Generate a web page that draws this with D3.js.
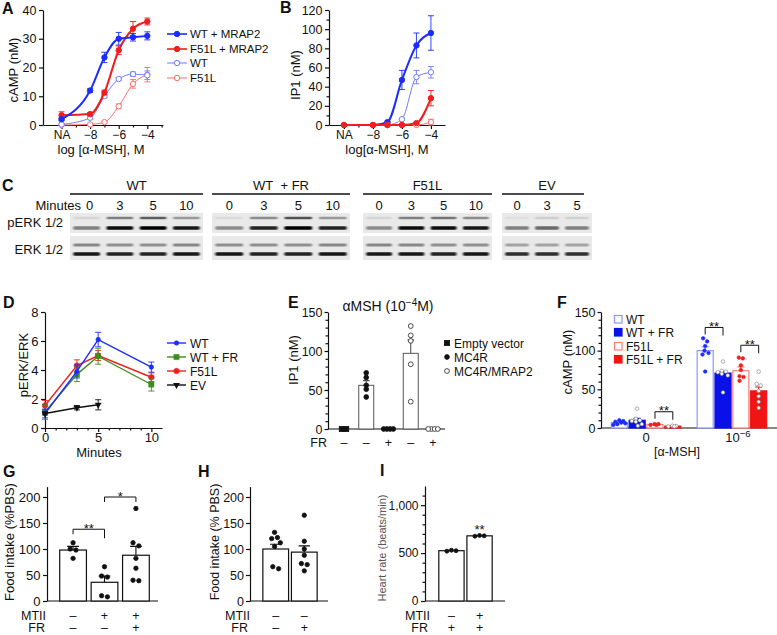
<!DOCTYPE html>
<html lang="en">
<head>
<meta charset="UTF-8">
<title>MC4R F51L / MRAP2 signalling</title>
<script src="https://cdn.jsdelivr.net/npm/d3@7/dist/d3.min.js"></script>
<style>
  body { margin: 0; background: #fff; }
  svg { display: block; font-family: 'Liberation Sans', Arial, sans-serif; }
  text { fill: #111; }
</style>
</head>
<body>
<svg id="fig" width="777" height="635"></svg>
<script>
// ---------- A / B : dose response ----------
const doseLog = [-10, -8, -7, -6, -5, -4];          // -10 is the "NA" point
const doseTicks = [-10, -8, -6, -4];
const doseTickLabels = ["NA", "\u22128", "\u22126", "\u22124"];
const doseSeries = ["WT + MRAP2", "F51L + MRAP2", "WT", "F51L"];

const campWtMrap2      = [2.0, 12.0, 23.5, 30.0, 30.5, 31.0];
const campWtMrap2Sem   = [0.5, 0.6, 1.8, 2.2, 1.3, 1.4];
const campF51lMrap2    = [3.4, 3.8, 11.3, 26.0, 33.5, 36.0];
const campF51lMrap2Sem = [1.2, 0.5, 0.8, 1.5, 2.5, 1.2];
const campWt           = [0.2, 2.5, 10.0, 16.0, 17.7, 17.3];
const campWtSem        = [0.2, 0.4, 0.5, 0.5, 0.7, 1.5];
const campF51l         = [0.0, 0.2, 1.0, 6.5, 14.3, 17.5];
const campF51lSem      = [0.1, 0.2, 0.3, 0.8, 1.5, 2.5];

const ip1WtMrap2      = [0, 0, 3, 47, 83, 96];
const ip1WtMrap2Sem   = [0, 0, 1, 10, 13, 18];
const ip1F51lMrap2    = [0, 0, 0, 0, 2, 28];
const ip1F51lMrap2Sem = [0, 0, 0, 0, 1, 8];
const ip1Wt           = [0, 0, 0, 6, 50, 55];
const ip1WtSem        = [0, 0, 0, 1, 7, 6];
const ip1F51l         = [0, 0, 0, 0, 0, 3];
const ip1F51lSem      = [0, 0, 0, 0, 0, 3];

// ---------- C : western blot (band darkness 0..1) ----------
const blotGroups  = ["WT", "WT\u00a0\u00a0+ FR", "F51L", "EV"];
const blotMinutes = [[0, 3, 5, 10], [0, 3, 5, 10], [0, 3, 5, 10], [0, 3, 5]];
const pErkUpper = [[0.08, 0.45, 0.6, 0.35], [0.06, 0.4, 0.65, 0.35], [0.08, 0.45, 0.5, 0.4], [0.04, 0.12, 0.1]];
const pErkLower = [[0.45, 0.95, 1, 0.9], [0.4, 0.85, 1, 0.85], [0.4, 0.95, 0.95, 0.9], [0.45, 0.55, 0.45]];
const erkUpper  = [[0.42, 0.38, 0.38, 0.42], [0.38, 0.38, 0.38, 0.42], [0.42, 0.42, 0.38, 0.38], [0.3, 0.3, 0.3]];
const erkLower  = [[0.9, 0.85, 0.85, 0.9], [0.9, 0.85, 0.85, 0.9], [0.9, 0.9, 0.85, 0.9], [0.8, 0.8, 0.8]];

// ---------- D : pERK/ERK time course ----------
const timeMin = [0, 3, 5, 10];
const evMin = [0, 3, 5];
const perkSeries = ["WT", "WT + FR", "F51L", "EV"];
const perkWt      = [1.0, 3.9, 6.1, 4.2];
const perkWtSem   = [0.3, 0.45, 0.5, 0.35];
const perkWtFr    = [1.1, 3.7, 4.95, 3.0];
const perkWtFrSem = [0.5, 0.5, 0.55, 0.45];
const perkF51l    = [1.55, 4.3, 5.0, 3.5];
const perkF51lSem = [0.35, 0.4, 0.35, 0.3];
const perkEv      = [1.0, 1.4, 1.6];
const perkEvSem   = [0.1, 0.15, 0.35];

// ---------- E : IP1 at 10^-4 M ----------
const eLegend = ["Empty vector", "MC4R", "MC4R/MRAP2"];
const eLaneType = [0, 1, 1, 2, 2];
const eLaneFR = ["\u2013", "\u2013", "+", "\u2013", "+"];
const eMeans = [0, 56, 0, 97, 0];
const eSems  = [0, 6, 0, 17, 0];
const ePoints = [[0, 0], [72, 66, 56, 51, 41], [0, 0, 0, 0], [132, 120, 113, 83, 35], [0, 0, 0, 0]];

// ---------- F : cAMP with FR ----------
const fDoses = ["0", "1e-6"];
const fSeries = ["WT", "WT + FR", "F51L", "F51L + FR"];
const fMeans = [[7, 10, 4.5, 2.4], [100, 71, 74, 48]];
const fSems  = [[1, 2.5, 0.4, 0.3], [5, 2, 5, 5]];
const fPoints = [
  [[9, 10, 6, 7, 5, 8, 4], [25, 12, 10, 9, 8, 5, 3], [5, 5, 4, 4], [3, 2.5, 2, 2]],
  [[116, 112, 106, 100, 97, 95, 73], [86, 74, 73, 72, 70, 68, 46], [91, 90, 81, 75, 67, 66, 61], [73, 57, 55, 48, 41, 34, 26]]
];
const fBrackets = [
  { dose: 0, a: 2, b: 3, at: 21, label: "**" },
  { dose: 1, a: 0, b: 1, at: 130, label: "**" },
  { dose: 1, a: 2, b: 3, at: 107, label: "**" }
];

// ---------- G / H / I : in vivo ----------
const gMtii = ["\u2013", "+", "+"];
const gFr   = ["\u2013", "\u2013", "+"];
const gMeans = [98, 36, 88];
const gSems  = [7, 12, 17];
const gPoints = [[112, 100, 98, 82], [66, 48, 46, 10, 8], [178, 112, 106, 82, 63, 40, 39]];
const gBrackets = [{ a: 0, b: 1, at: 138, label: "**" }, { a: 1, b: 2, at: 200, label: "*" }];

const hMtii = ["\u2013", "\u2013"];
const hFr   = ["\u2013", "+"];
const hMeans = [100, 94];
const hSems  = [9, 12];
const hPoints = [[132, 122, 120, 112, 105, 66, 62], [165, 115, 100, 88, 72, 70, 58]];

const iMtii = ["\u2013", "+"];
const iFr   = ["+", "+"];
const iMeans = [525, 680];
const iSems  = [5, 4];
const iPoints = [[520, 525, 530], [676, 680, 684]];

const BLUE = "#1c2cff", RED = "#f01e1e", LBLUE = "#6f7cff", LRED = "#ff6c6c", GREEN = "#3f8c1e";

const svg = d3.select("#fig");
svg.append("defs").append("filter").attr("id", "bandBlur")
  .attr("x", "-20%").attr("y", "-150%").attr("width", "140%").attr("height", "400%")
  .append("feGaussianBlur").attr("stdDeviation", "1.3 0.7");

function letter(x, y, t) {
  svg.append("text").attr("x", x).attr("y", y).attr("font-size", 16).attr("font-weight", "bold").text(t);
}

function addAxis(parent, orient, scale, pos, o) {
  const gen = (orient === "left" ? d3.axisLeft(scale) : d3.axisBottom(scale))
    .tickValues(o.ticks).tickSize(o.size ?? 4).tickSizeOuter(0).tickPadding(o.pad ?? 2.5);
  if (o.format) gen.tickFormat(o.format);
  const tr = orient === "left" ? `translate(${pos},0)` : `translate(0,${pos})`;
  const g = parent.append("g").attr("transform", tr).call(gen)
    .attr("font-family", null).attr("font-size", o.fontSize ?? 13);
  g.selectAll("path,line").attr("stroke", "#111").attr("stroke-width", 1.2);
  g.selectAll("text").attr("fill", "#111");
  if (o.minor) {
    const mg = (orient === "left" ? d3.axisLeft(scale) : d3.axisBottom(scale))
      .tickValues(o.minor).tickSize(2.5).tickSizeOuter(0).tickFormat("");
    const m = parent.append("g").attr("transform", tr).call(mg);
    m.select(".domain").remove();
    m.selectAll("line").attr("stroke", "#111").attr("stroke-width", 1.2);
  }
  return g;
}

function yTitle(g, x, y, t, size, color) {
  g.append("text").attr("transform", `translate(${x},${y}) rotate(-90)`)
    .attr("text-anchor", "middle").attr("dominant-baseline", "central")
    .attr("font-size", size || 13).style("fill", color || "#111").text(t);
}

function hline(g, x1, x2, y) {
  g.append("line").attr("x1", x1).attr("x2", x2).attr("y1", y).attr("y2", y)
    .attr("stroke", "#111").attr("stroke-width", 1.2);
}

// beeswarm-ish horizontal offsets so dots do not sit on top of each other
function swarm(vals, y, step, maxHalf) {
  const pts = vals.map((v, i) => ({ i, y: y(v), dx: 0 })).sort((a, b) => a.y - b.y);
  const placed = [];
  for (const p of pts) {
    const cands = [0];
    for (let k = 1; k * step / 2 <= maxHalf; k++) cands.push(k * step / 2, -k * step / 2);
    let best = 0, bestD = -1;
    for (const dx of cands) {
      const dmin = placed.length ? d3.min(placed, q => Math.hypot(q.dx - dx, q.y - p.y)) : Infinity;
      if (dmin >= step) { best = dx; break; }
      if (dmin > bestD) { bestD = dmin; best = dx; }
    }
    p.dx = best;
    placed.push(p);
  }
  let run = [];
  const flush = () => { const m = d3.mean(run, r => r.dx); run.forEach(r => r.dx -= m); run = []; };
  for (const p of pts) {
    if (run.length && p.y - run[run.length - 1].y >= step) flush();
    run.push(p);
  }
  flush();
  const out = [];
  pts.forEach(p => out[p.i] = p.dx);
  return out;
}

function marker(g, shape, x, y, size, fill, stroke, sw) {
  if (shape === "square") {
    g.append("rect").attr("x", x - size).attr("y", y - size).attr("width", size * 2).attr("height", size * 2)
      .attr("fill", fill).attr("stroke", stroke).attr("stroke-width", sw || 0.8);
  } else if (shape === "tri") {
    g.append("path").attr("transform", `translate(${x},${y}) rotate(180)`)
      .attr("d", d3.symbol(d3.symbolTriangle, size * size * 3)).attr("fill", fill);
  } else {
    g.append("circle").attr("cx", x).attr("cy", y).attr("r", size)
      .attr("fill", fill).attr("stroke", stroke).attr("stroke-width", sw || 0.8);
  }
}

function dots(g, cx, vals, y, o) {
  const off = swarm(vals, y, o.step, o.maxHalf);
  vals.forEach((v, i) => marker(g, o.shape, cx + off[i], y(v), o.r, o.fill, o.stroke, o.sw));
}

function bar(g, cx, w, y, mean, sem, o) {
  if (mean > 0) {
    g.append("rect").attr("x", cx - w / 2).attr("y", y(mean)).attr("width", w).attr("height", y(0) - y(mean))
      .attr("fill", o.fill).attr("stroke", o.stroke).attr("stroke-width", o.sw || 1.1);
  }
  if (sem > 0) {
    const top = y(mean + sem), c = w * 0.22;
    g.append("path").attr("d", `M${cx},${y(mean)}V${top}M${cx - c},${top}H${cx + c}`)
      .attr("fill", "none").attr("stroke", o.err || o.stroke).attr("stroke-width", 1.1);
  }
}

function bracket(g, x1, x2, yTop, d1, d2, label) {
  g.append("path").attr("d", `M${x1},${yTop + d1}V${yTop}H${x2}V${yTop + d2}`)
    .attr("fill", "none").attr("stroke", "#111").attr("stroke-width", 1);
  g.append("text").attr("x", (x1 + x2) / 2).attr("y", yTop + 3.5).attr("text-anchor", "middle")
    .attr("font-size", 13).text(label);
}

function signRow(g, label, labelX, y, xs, signs) {
  g.append("text").attr("x", labelX).attr("y", y).attr("text-anchor", "end").attr("font-size", 12.5).text(label);
  signs.forEach((s, i) => g.append("text").attr("x", xs[i]).attr("y", y).attr("text-anchor", "middle")
    .attr("font-size", 12.5).text(s));
}

function errBars(g, pts, x, y, color, cap) {
  pts.forEach(p => {
    if (!(p.e > 0)) return;
    const y1 = y(p.v - p.e), y2 = y(p.v + p.e), px = x(p.t);
    g.append("path").attr("d", `M${px},${y1}V${y2}M${px - cap},${y1}H${px + cap}M${px - cap},${y2}H${px + cap}`)
      .attr("fill", "none").attr("stroke", color).attr("stroke-width", 0.9);
  });
}

// ================= A =================
letter(2, 14, "A");
const gA = svg.append("g");
const xA = d3.scaleLinear().domain([-11.3, -2.9]).range([43, 163]);
const yA = d3.scaleLinear().domain([0, 40]).range([125, 10]);
addAxis(gA, "left", yA, 43, { ticks: [0, 10, 20, 30, 40], fontSize: 12.5 });
addAxis(gA, "bottom", xA, 125, { ticks: doseTicks, format: (d, i) => doseTickLabels[i], minor: [-9, -7, -5, -3], fontSize: 12, pad: 1.5 });
yTitle(gA, 13, 70, "cAMP (nM)");
gA.append("text").attr("x", 101).attr("y", 154).attr("text-anchor", "middle").attr("font-size", 13).text("log [\u03b1-MSH], M");

const styleA = [
  { v: campWtMrap2, e: campWtMrap2Sem, color: BLUE, w: 2, open: false },
  { v: campF51lMrap2, e: campF51lMrap2Sem, color: RED, w: 2, open: false },
  { v: campWt, e: campWtSem, color: LBLUE, w: 1, open: true },
  { v: campF51l, e: campF51lSem, color: LRED, w: 1, open: true }
];
const styleB = [
  { v: ip1WtMrap2, e: ip1WtMrap2Sem, color: BLUE, w: 2, open: false },
  { v: ip1F51lMrap2, e: ip1F51lMrap2Sem, color: RED, w: 2, open: false },
  { v: ip1Wt, e: ip1WtSem, color: LBLUE, w: 1, open: true },
  { v: ip1F51l, e: ip1F51lSem, color: LRED, w: 1, open: true }
];

function dosePanel(g, x, y, styles, order) {
  order.forEach(k => {
    const s = styles[k];
    const pts = doseLog.map((t, i) => ({ t, v: s.v[i], e: s.e[i] }));
    g.append("path").datum(pts)
      .attr("d", d3.line().x(p => x(p.t)).y(p => y(p.v)).curve(d3.curveMonotoneX))
      .attr("fill", "none").attr("stroke", s.color).attr("stroke-width", s.w);
    errBars(g, pts, x, y, s.color, 3);
    pts.forEach(p => marker(g, "circle", x(p.t), y(p.v), 2.7, s.open ? "#fff" : s.color, s.color, 1));
  });
}
dosePanel(gA, xA, yA, styleA, [3, 2, 1, 0]);

const legA = gA.append("g");
doseSeries.forEach((name, i) => {
  const s = styleA[i], yy = [34, 49, 63, 78][i];
  legA.append("line").attr("x1", 167).attr("x2", 187).attr("y1", yy).attr("y2", yy).attr("stroke", s.color).attr("stroke-width", s.w === 2 ? 1.6 : 1);
  marker(legA, "circle", 177, yy, 2.7, s.open ? "#fff" : s.color, s.color, 1);
  legA.append("text").attr("x", 190).attr("y", yy + 4).attr("font-size", 11.5).text(name);
});

// ================= B =================
letter(280, 13, "B");
const gB = svg.append("g");
const xB = d3.scaleLinear().domain([-11.03, -3.03]).range([329, 445]);
const yB = d3.scaleLinear().domain([0, 120]).range([125, 10]);
addAxis(gB, "left", yB, 329, { ticks: [0, 20, 40, 60, 80, 100, 120], minor: [10, 30, 50, 70, 90, 110], fontSize: 12.5 });
addAxis(gB, "bottom", xB, 125, { ticks: doseTicks, format: (d, i) => doseTickLabels[i], minor: [-9, -7, -5], fontSize: 12, pad: 1.5 });
yTitle(gB, 295, 75, "IP1 (nM)");
gB.append("text").attr("x", 387).attr("y", 154).attr("text-anchor", "middle").attr("font-size", 13).text("log[\u03b1-MSH], M");
dosePanel(gB, xB, yB, styleB, [2, 0, 3, 1]);

// ================= C =================
letter(2, 191, "C");
const gC = svg.append("g");
const blotSpans = [[70, 203], [212, 350], [363, 492], [502, 592]];
const blotRows = [
  { label: "pERK 1/2", top: 213, h: 20, textY: 227, bands: [{ cy: 218, h: 2.4, level: pErkUpper }, { cy: 228, h: 3.4, level: pErkLower }] },
  { label: "ERK 1/2", top: 236, h: 24, textY: 254, bands: [{ cy: 245, h: 3, level: erkUpper }, { cy: 254, h: 3.6, level: erkLower }] }
];
gC.append("text").attr("x", 81).attr("y", 210).attr("text-anchor", "end").attr("font-size", 13).text("Minutes");
blotRows.forEach(r => gC.append("text").attr("x", 63).attr("y", r.textY).attr("text-anchor", "end").attr("font-size", 13).text(r.label));

blotGroups.forEach((name, gi) => {
  const span = blotSpans[gi];
  const lane = d3.scaleBand().domain(blotMinutes[gi]).range(span).paddingInner(0.08).paddingOuter(0.04);
  gC.append("text").attr("x", (span[0] + span[1]) / 2).attr("y", 190).attr("text-anchor", "middle").attr("font-size", 13).text(name);
  gC.append("line").attr("x1", span[0]).attr("x2", span[1] - (gi === 3 ? 8 : 0)).attr("y1", 194).attr("y2", 194)
    .attr("stroke", "#111").attr("stroke-width", 1.5);
  blotMinutes[gi].forEach(m => gC.append("text").attr("x", lane(m) + lane.bandwidth() / 2 + (gi === 0 && m === 0 ? 3 : 0))
    .attr("y", 210).attr("text-anchor", "middle").attr("font-size", 13).text(m));
  blotRows.forEach(r => {
    gC.append("rect").attr("x", span[0]).attr("y", r.top).attr("width", span[1] - span[0]).attr("height", r.h).attr("fill", "#e9e9e9");
    r.bands.forEach(b => {
      blotMinutes[gi].forEach((m, li) => {
        gC.append("rect").attr("x", lane(m) + 2).attr("y", b.cy - b.h / 2)
          .attr("width", lane.bandwidth() - 4).attr("height", b.h).attr("rx", 1.2)
          .attr("fill", "#000").attr("fill-opacity", b.level[gi][li]).attr("filter", "url(#bandBlur)");
      });
    });
  });
});

// ================= D =================
letter(3, 308, "D");
const gD = svg.append("g");
const xD = d3.scaleLinear().domain([0, 11]).range([45, 162]);
const yD = d3.scaleLinear().domain([0, 8]).range([428, 312]);
addAxis(gD, "left", yD, 45, { ticks: [0, 2, 4, 6, 8] });
addAxis(gD, "bottom", xD, 428, { ticks: [0, 5, 10], minor: [1, 2, 3, 4, 6, 7, 8, 9], pad: 1 });
yTitle(gD, 23, 365, "pERK/ERK");
gD.append("text").attr("x", 99).attr("y", 457).attr("text-anchor", "middle").attr("font-size", 13).text("Minutes");

const styleD = [
  { t: timeMin, v: perkWt, e: perkWtSem, color: BLUE, shape: "circle", r: 2.3 },
  { t: timeMin, v: perkWtFr, e: perkWtFrSem, color: GREEN, shape: "square", r: 2.6 },
  { t: timeMin, v: perkF51l, e: perkF51lSem, color: RED, shape: "circle", r: 2.8 },
  { t: evMin, v: perkEv, e: perkEvSem, color: "#111", shape: "tri", r: 2.6 }
];
[2, 1, 0, 3].forEach(k => {
  const s = styleD[k];
  const pts = s.t.map((t, i) => ({ t, v: s.v[i], e: s.e[i] }));
  errBars(gD, pts, xD, yD, s.color, 3);
  gD.append("path").datum(pts).attr("d", d3.line().x(p => xD(p.t)).y(p => yD(p.v)))
    .attr("fill", "none").attr("stroke", s.color).attr("stroke-width", 1.4);
  pts.forEach(p => marker(gD, s.shape, xD(p.t), yD(p.v), s.r, s.color, s.color, 0.5));
});
perkSeries.forEach((name, i) => {
  const s = styleD[i], yy = [343, 357, 371, 385][i];
  gD.append("line").attr("x1", 167).attr("x2", 186).attr("y1", yy).attr("y2", yy).attr("stroke", s.color).attr("stroke-width", 1.4);
  marker(gD, s.shape, 176.5, yy, s.r, s.color, s.color, 0.5);
  gD.append("text").attr("x", 190).attr("y", yy + 4.5).attr("font-size", 12).text(name);
});

// ================= E =================
letter(288, 308, "E");
const gE = svg.append("g");
const yE = d3.scaleLinear().domain([0, 150]).range([429, 312]);
const xE = d3.scalePoint().domain(d3.range(eLaneType.length)).range([344, 433]);
addAxis(gE, "left", yE, 328, { ticks: [0, 50, 100, 150], minor: d3.range(10, 150, 10).filter(v => v % 50), size: 3.5, pad: 2, fontSize: 12.5 });
hline(gE, 328, 445, 429);
yTitle(gE, 293, 360, "IP1 (nM)");
const eTitle = gE.append("text").attr("x", 388).attr("y", 311).attr("text-anchor", "middle").attr("font-size", 14);
eTitle.append("tspan").text("\u03b1MSH (10");
eTitle.append("tspan").attr("dy", -5).attr("font-size", 10).text("\u22124");
eTitle.append("tspan").attr("dy", 5).text("M)");
const eStyle = [
  { shape: "square", r: 2.6, fill: "#111", stroke: "#111" },
  { shape: "circle", r: 2.4, fill: "#111", stroke: "#111" },
  { shape: "circle", r: 2.4, fill: "#fff", stroke: "#222" }
];
eLaneType.forEach((t, i) => {
  bar(gE, xE(i), 15, yE, eMeans[i], eSems[i], { fill: "#fff", stroke: "#555", sw: 1 });
  const s = eStyle[t];
  dots(gE, xE(i), ePoints[i], yE, { step: t === 0 ? 8.5 : 3.2, maxHalf: 8, shape: s.shape, r: s.r, fill: s.fill, stroke: s.stroke, sw: 0.8 });
});
signRow(gE, "FR", 327, 447, eLaneType.map((t, i) => xE(i)), eLaneFR);
eLegend.forEach((name, i) => {
  const yy = [343, 357, 371][i], s = eStyle[i];
  marker(gE, s.shape, 447, yy, s.r, s.fill, s.stroke, 0.8);
  gE.append("text").attr("x", 454).attr("y", yy + 4.5).attr("font-size", 12).text(name);
});

// ================= F =================
letter(557, 308, "F");
const gF = svg.append("g");
const yF = d3.scaleLinear().domain([0, 150]).range([428, 312]);
const x0F = d3.scaleBand().domain(fDoses).range([601, 777]).paddingInner(0.19).paddingOuter(0.12);
const x1F = d3.scaleBand().domain(fSeries).range([0, x0F.bandwidth()]).paddingInner(0.1);
addAxis(gF, "left", yF, 601, { ticks: [0, 50, 100, 150], minor: d3.range(10, 150, 10).filter(v => v % 50), size: 3.5, pad: 2, fontSize: 12.5 });
hline(gF, 601, 777, 428);
yTitle(gF, 567, 362, "cAMP (nM)");
const fStyle = [
  { fill: "#fff", stroke: "#8c96ff", err: "#8c96ff", dot: BLUE, dotStroke: BLUE },
  { fill: "#0a10e8", stroke: "#0a10e8", err: "#0a10e8", dot: "#fff", dotStroke: "#777" },
  { fill: "#fff", stroke: "#ff7a7a", err: "#ff7a7a", dot: RED, dotStroke: RED },
  { fill: "#f21414", stroke: "#f21414", err: "#f21414", dot: "#fff", dotStroke: "#777" }
];
fDoses.forEach((d, di) => {
  fSeries.forEach((s, si) => {
    const cx = x0F(d) + x1F(s) + x1F.bandwidth() / 2, st = fStyle[si];
    bar(gF, cx, x1F.bandwidth(), yF, fMeans[di][si], fSems[di][si], { fill: st.fill, stroke: st.stroke, err: st.err, sw: 1.2 });
    dots(gF, cx, fPoints[di][si], yF, { step: 4, maxHalf: 6, shape: "circle", r: 1.8, fill: st.dot, stroke: st.dotStroke, sw: 0.6 });
  });
});
fBrackets.forEach(b => {
  const d = fDoses[b.dose];
  const xa = x0F(d) + x1F(fSeries[b.a]) + x1F.bandwidth() / 2;
  const xb = x0F(d) + x1F(fSeries[b.b]) + x1F.bandwidth() / 2;
  bracket(gF, xa, xb, yF(b.at), 7, 8, b.label);
});
gF.append("text").attr("x", x0F("0") + x0F.bandwidth() / 2).attr("y", 442).attr("text-anchor", "middle").attr("font-size", 13).text("0");
const f6 = gF.append("text").attr("x", x0F("1e-6") + x0F.bandwidth() / 2 + 6).attr("y", 442).attr("text-anchor", "middle").attr("font-size", 13);
f6.append("tspan").text("10");
f6.append("tspan").attr("dy", -5).attr("font-size", 9.5).text("\u22126");
gF.append("text").attr("x", 677).attr("y", 456).attr("text-anchor", "middle").attr("font-size", 12.5).text("[\u03b1-MSH]");
fSeries.forEach((name, i) => {
  const yy = [319, 332, 346, 359][i], st = fStyle[i];
  gF.append("rect").attr("x", 614.5).attr("y", yy - 3.5).attr("width", 7.5).attr("height", 7.5)
    .attr("fill", st.fill).attr("stroke", st.stroke).attr("stroke-width", 1.2);
  gF.append("text").attr("x", 626).attr("y", yy + 4.5).attr("font-size", 12).text(name);
});

// ================= G =================
letter(3, 477, "G");
const gG = svg.append("g");
const yG = d3.scaleLinear().domain([0, 220]).range([601, 486.6]);
const xG = d3.scaleBand().domain(d3.range(gMeans.length)).range([55, 154]).padding(0.15);
addAxis(gG, "left", yG, 47, { ticks: [0, 50, 100, 150, 200] });
hline(gG, 47, 158, 601);
yTitle(gG, 9, 542, "Food intake (%PBS)");
const cG = i => xG(i) + xG.bandwidth() / 2;
gMeans.forEach((m, i) => {
  bar(gG, cG(i), xG.bandwidth(), yG, m, gSems[i], { fill: "#fff", stroke: "#111", sw: 1.2 });
  dots(gG, cG(i), gPoints[i], yG, { step: 5.8, maxHalf: 10, shape: "circle", r: 2.2, fill: "#111", stroke: "#111" });
});
gBrackets.forEach((b, k) => bracket(gG, cG(b.a), cG(b.b), yG(b.at), 5, k ? 5 : 9, b.label));
signRow(gG, "MTII", 46, 619.5, gMeans.map((m, i) => cG(i)), gMtii);
signRow(gG, "FR", 45, 632, gMeans.map((m, i) => cG(i)), gFr);

// ================= H =================
letter(198, 477, "H");
const gH = svg.append("g");
const xH = d3.scaleBand().domain(d3.range(hMeans.length)).range([260, 320]).padding(0.1);
addAxis(gH, "left", yG, 250, { ticks: [0, 50, 100, 150, 200], fontSize: 12.5, pad: 2 });
hline(gH, 250, 328, 601);
yTitle(gH, 215, 542, "Food intake (% PBS)", 12.5);
const cH = i => xH(i) + xH.bandwidth() / 2;
hMeans.forEach((m, i) => {
  bar(gH, cH(i), xH.bandwidth(), yG, m, hSems[i], { fill: "#fff", stroke: "#111", sw: 1.2 });
  dots(gH, cH(i), hPoints[i], yG, { step: 5.8, maxHalf: 9, shape: "circle", r: 2.2, fill: "#111", stroke: "#111" });
});
signRow(gH, "MTII", 250, 619.5, hMeans.map((m, i) => cH(i)), hMtii);
signRow(gH, "FR", 248, 632, hMeans.map((m, i) => cH(i)), hFr);

// ================= I =================
letter(380, 476, "I");
const gI = svg.append("g");
const yI = d3.scaleLinear().domain([0, 1200]).range([601, 486]);
const xI = d3.scaleBand().domain(d3.range(iMeans.length)).range([436, 495]).padding(0.1);
addAxis(gI, "left", yI, 425, { ticks: [0, 500, 1000], format: d3.format(","), minor: d3.range(100, 1200, 100).filter(v => v % 500), fontSize: 12 });
hline(gI, 425, 505, 601);
yTitle(gI, 382, 548, "Heart rate (beats/min)", 11, "#555");
const cI = i => xI(i) + xI.bandwidth() / 2;
iMeans.forEach((m, i) => {
  bar(gI, cI(i), xI.bandwidth(), yI, m, iSems[i], { fill: "#fff", stroke: "#111", sw: 1.2 });
  dots(gI, cI(i), iPoints[i], yI, { step: 4.6, maxHalf: 8, shape: "circle", r: 2, fill: "#111", stroke: "#111" });
});
gI.append("text").attr("x", cI(1)).attr("y", yI(iMeans[1]) - 1.5).attr("text-anchor", "middle").attr("font-size", 13).text("**");
signRow(gI, "MTII", 430, 619.5, iMeans.map((m, i) => cI(i)), iMtii);
signRow(gI, "FR", 428, 632, iMeans.map((m, i) => cI(i)), iFr);
</script>
</body>
</html>
